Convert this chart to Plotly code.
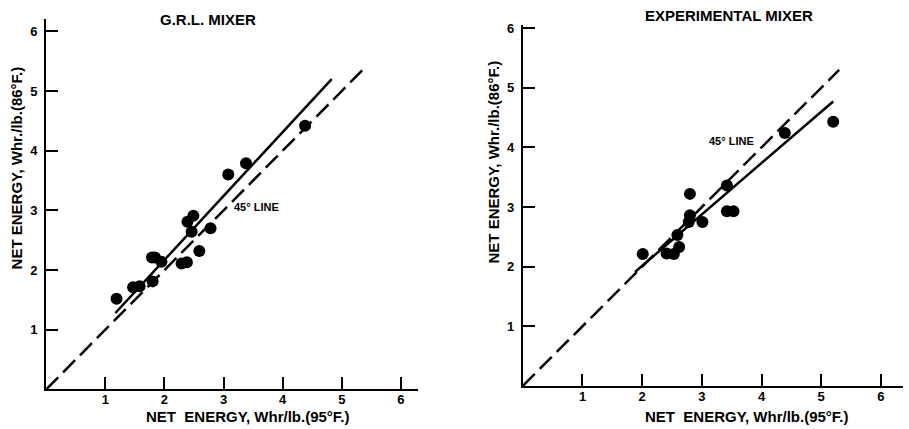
import plotly.graph_objects as go

# ---- data ----
grl_x = [1.19, 1.47, 1.58, 1.80, 1.79, 1.84, 1.95, 2.29, 2.38, 2.59, 2.39, 2.49, 2.46, 2.78, 3.08, 3.38, 4.38]
grl_y = [1.52, 1.71, 1.73, 1.81, 2.21, 2.21, 2.14, 2.11, 2.13, 2.32, 2.81, 2.91, 2.64, 2.70, 3.60, 3.79, 4.42]
grl_fit_x = [1.17, 4.83]
grl_fit_y = [1.28, 5.20]
grl_45_x = [0, 5.43]
grl_45_y = [0, 5.43]

exp_x = [2.01, 2.41, 2.53, 2.62, 2.59, 2.80, 2.80, 2.78, 3.01, 3.42, 3.42, 3.53, 4.39, 5.20]
exp_y = [2.21, 2.22, 2.21, 2.33, 2.53, 2.86, 3.22, 2.75, 2.75, 3.36, 2.93, 2.93, 4.24, 4.43]
exp_fit_x = [1.88, 4.45, 5.20]
exp_fit_y = [1.91, 4.12, 4.77]
exp_45_x = [0, 5.30]
exp_45_y = [0, 5.30]

tick_vals = [1, 2, 3, 4, 5, 6]
tick_text = ["1", "2", "3", "4", "5", "6"]

FONT = "Liberation Sans, Arial, sans-serif"
W, H = 909, 429

fig = go.Figure()

def add_panel(px, py, fx, fy, lx, ly, xa, ya):
    fig.add_trace(go.Scatter(x=lx, y=ly, mode="lines", xaxis=xa, yaxis=ya,
                             line=dict(color="black", width=2.5, dash="17px,7px"),
                             hoverinfo="skip", showlegend=False))
    fig.add_trace(go.Scatter(x=fx, y=fy, mode="lines", xaxis=xa, yaxis=ya,
                             line=dict(color="black", width=2.5),
                             hoverinfo="skip", showlegend=False))
    fig.add_trace(go.Scatter(x=px, y=py, mode="markers", xaxis=xa, yaxis=ya,
                             marker=dict(color="black", size=12, line=dict(width=0)),
                             showlegend=False))

add_panel(grl_x, grl_y, grl_fit_x, grl_fit_y, grl_45_x, grl_45_y, "x", "y")
add_panel(exp_x, exp_y, exp_fit_x, exp_fit_y, exp_45_x, exp_45_y, "x2", "y2")

axis_common = dict(showgrid=False, zeroline=False, showline=True, linecolor="black",
                   linewidth=2, ticks="inside", ticklen=12, tickwidth=2, tickcolor="black",
                   tickvals=tick_vals, ticktext=tick_text,
                   tickfont=dict(family=FONT, size=13, color="black", weight="bold"))

fig.update_layout(
    width=W, height=H, margin=dict(l=0, r=0, t=0, b=0),
    paper_bgcolor="white", plot_bgcolor="white",
    xaxis=dict(domain=[46.2 / W, 418 / W], range=[0, 6.29], anchor="y",
               ticklabelstandoff=-3, **axis_common),
    yaxis=dict(domain=[(H - 389) / H, (H - 15) / H], range=[0, 6.21], anchor="x",
               ticklabelstandoff=4, **axis_common),
    xaxis2=dict(domain=[522.8 / W, 903 / W], range=[0, 6.37], anchor="y2",
                ticklabelstandoff=-3, **axis_common),
    yaxis2=dict(domain=[(H - 385.5) / H, (H - 20.7) / H], range=[0, 6.06], anchor="x2",
                ticklabelstandoff=4, **axis_common),
)

def ann(text, x, y, size, rot=0, xref="paper", yref="paper"):
    fig.add_annotation(text=text, x=x, y=y, xref=xref, yref=yref, showarrow=False,
                       textangle=rot, xanchor="center", yanchor="middle",
                       font=dict(family=FONT, size=size, color="black", weight="bold"))

ann("G.R.L. MIXER", 208 / W, 1 - 16 / H, 15)
ann("EXPERIMENTAL MIXER", 728.5 / W, 1 - 12 / H, 15)
ann("NET  ENERGY, Whr/lb.(95°F.)", 248 / W, 1 - 416 / H, 15)
ann("NET  ENERGY, Whr/lb.(95°F.)", 746.5 / W, 1 - 416 / H, 15)
ann("NET ENERGY, Whr./lb.(86°F.)", 16 / W, 1 - 166 / H, 15, rot=-90)
ann("NET ENERGY, Whr./lb.(86°F.)", 494 / W, 1 - 159 / H, 15, rot=-90)
ann("45° LINE", 3.56, 3.06, 11, xref="x", yref="y")
ann("45° LINE", 3.50, 4.11, 11, xref="x2", yref="y2")

fig.write_html("out.html")
